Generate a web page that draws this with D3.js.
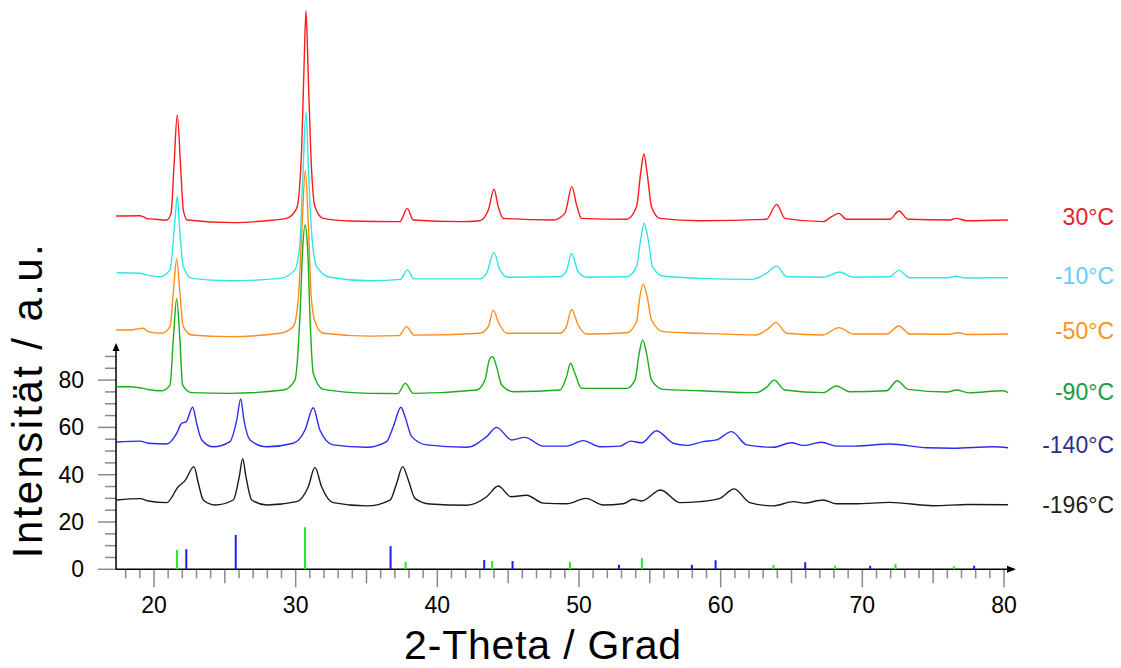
<!DOCTYPE html>
<html>
<head>
<meta charset="utf-8">
<script src="https://cdn.jsdelivr.net/npm/d3@7"></script>
<style>
  body { margin: 0; background: #fff; }
  text { font-family: "Liberation Sans", Arial, sans-serif; }
</style>
</head>
<body>
<script>
// XRD patterns at different temperatures, [2-theta, intensity]

var pattern30 = [[17.32,149.4],[19.0,149.5],[19.24,149.1],[19.5,148.3],[20.07,148.0],[20.9,147.7],[21.2,150.5],[21.41,170.2],[21.64,192.1],[21.88,170.2],[22.07,151.9],[22.35,147.7],[25.6,146.6],[27.95,147.4],[29.36,148.4],[30.07,152.6],[30.42,177.3],[30.59,212.5],[30.73,236.2],[30.87,212.5],[31.06,177.3],[31.36,153.3],[31.95,148.4],[33.83,147.3],[37.36,147.0],[37.88,152.6],[38.3,147.7],[41.6,147.0],[43.0,147.4],[43.6,151.9],[44.0,160.7],[44.3,153.3],[44.65,148.4],[48.18,147.7],[49.0,150.5],[49.5,161.8],[49.83,154.0],[50.18,148.4],[53.36,148.0],[54.06,153.3],[54.35,167.4],[54.58,175.6],[54.81,167.4],[55.12,153.3],[55.71,148.4],[58.53,147.4],[63.24,148.0],[63.95,154.3],[64.53,148.4],[67.23,147.0],[67.83,149.1],[68.34,150.5],[68.88,148.0],[71.94,148.0],[72.58,151.5],[73.23,148.0],[76.17,147.7],[76.65,148.4],[77.35,147.4],[80.29,147.7]];

var patternM10 = [[17.37,125.4],[19.01,125.2],[19.4,124.6],[20.42,123.7],[21.13,126.6],[21.48,147.7],[21.64,157.8],[21.83,142.2],[22.07,128.0],[22.66,123.0],[25.36,122.0],[28.89,123.0],[29.95,126.6],[30.3,137.8],[30.5,165.0],[30.73,193.5],[30.93,165.0],[31.13,142.1],[31.48,128.0],[32.42,123.5],[35.24,122.0],[37.4,122.6],[37.88,126.6],[38.35,122.8],[43.0,122.8],[43.48,125.2],[44.0,134.0],[44.42,126.6],[45.0,123.5],[48.65,123.7],[49.1,126.0],[49.47,133.6],[49.94,125.8],[50.53,123.5],[53.36,123.7],[54.06,128.0],[54.35,139.2],[54.6,146.3],[54.89,139.2],[55.19,128.0],[55.94,124.0],[58.53,123.0],[62.18,122.6],[63.24,125.2],[63.95,128.2],[64.66,123.7],[67.23,123.5],[68.41,125.7],[69.35,123.5],[71.94,123.7],[72.58,126.4],[73.35,123.3],[76.0,123.3],[76.65,123.9],[77.3,123.2],[80.29,123.3]];

var patternM50 = [[17.32,101.2],[18.3,101.2],[19.24,101.9],[19.6,100.5],[20.54,99.8],[21.13,102.6],[21.36,116.7],[21.6,131.2],[21.83,116.7],[22.07,102.6],[22.66,99.1],[25.36,98.4],[28.89,99.8],[29.83,102.6],[30.18,113.9],[30.45,145.0],[30.68,168.8],[30.9,145.0],[31.1,115.0],[31.4,104.0],[31.95,99.8],[35.24,98.6],[37.3,98.8],[37.83,102.6],[38.35,99.0],[43.0,99.8],[43.6,102.6],[43.95,109.6],[44.3,104.7],[44.89,99.8],[48.65,99.8],[49.1,102.5],[49.47,109.9],[49.94,103.3],[50.53,99.5],[53.36,100.0],[54.06,104.7],[54.3,115.3],[54.53,120.6],[54.81,115.3],[55.12,105.4],[55.94,100.5],[58.53,99.8],[62.5,99.1],[63.24,101.2],[63.9,104.3],[64.66,99.8],[67.23,99.1],[68.34,102.2],[69.35,99.5],[71.71,99.5],[72.58,102.9],[73.35,99.5],[76.1,99.4],[76.77,100.0],[77.4,99.3],[80.29,99.5]];

var patternM90 = [[17.32,77.2],[18.3,77.2],[19.24,76.5],[19.6,76.0],[20.54,75.5],[21.13,77.9],[21.36,97.0],[21.6,114.4],[21.83,97.0],[22.02,77.9],[22.66,74.7],[25.36,74.4],[29.13,75.8],[29.95,80.0],[30.3,106.8],[30.49,135.0],[30.66,145.6],[30.85,135.0],[31.01,106.8],[31.24,82.9],[31.95,76.1],[35.24,74.4],[37.2,74.3],[37.74,78.6],[38.3,74.4],[42.77,75.8],[43.36,80.0],[43.71,89.2],[43.9,89.9],[44.18,85.7],[44.54,77.9],[45.36,75.1],[48.65,75.8],[49.12,81.4],[49.4,87.1],[49.71,82.9],[50.18,76.5],[53.36,76.5],[53.95,80.0],[54.25,91.3],[54.49,97.0],[54.77,91.3],[55.12,80.0],[55.94,76.1],[58.53,75.5],[62.5,74.7],[63.24,77.0],[63.78,80.0],[64.53,75.8],[67.23,74.7],[68.17,77.5],[69.12,75.1],[71.71,75.5],[72.46,79.7],[73.23,76.1],[76.0,75.0],[76.65,75.8],[77.5,74.6],[79.94,75.5],[80.29,74.7]];

var patternM140 = [[17.37,53.8],[19.01,54.2],[19.6,53.3],[20.9,53.0],[21.6,57.5],[21.95,61.7],[22.26,62.3],[22.73,68.5],[23.01,61.7],[23.37,54.7],[24.19,51.8],[25.36,54.0],[25.84,63.1],[26.12,72.0],[26.35,63.1],[26.78,54.7],[27.95,51.8],[29.83,53.3],[30.66,58.9],[31.24,68.3],[31.71,58.9],[32.65,52.6],[35.01,51.6],[36.42,54.0],[36.89,60.3],[37.43,68.5],[37.72,64.5],[38.19,56.1],[39.25,52.6],[42.07,51.6],[43.48,56.1],[44.19,60.0],[45.24,54.7],[46.18,55.8],[47.47,52.1],[49.12,52.1],[50.3,54.4],[51.48,51.8],[52.89,52.1],[53.64,54.2],[54.42,53.5],[55.47,58.6],[56.65,53.3],[57.59,52.4],[58.77,54.0],[59.71,54.7],[60.77,58.2],[61.83,52.6],[63.71,51.6],[65.0,53.5],[65.82,52.4],[67.12,53.7],[68.17,52.1],[69.5,52.1],[71.94,53.0],[74.53,51.4],[76.41,51.2],[79.23,51.8],[80.29,51.4]];

var patternM196 = [[17.37,29.3],[19.01,29.9],[19.6,28.9],[20.9,28.2],[21.71,34.9],[22.19,37.5],[22.82,43.4],[23.13,36.4],[23.48,29.3],[24.3,27.2],[25.6,29.3],[26.02,39.2],[26.26,46.8],[26.49,39.2],[26.9,29.3],[27.95,27.2],[30.07,28.6],[30.89,34.9],[31.36,43.1],[31.83,34.9],[32.65,28.2],[35.01,26.8],[36.66,29.3],[37.13,36.4],[37.55,43.4],[37.95,37.8],[38.42,30.0],[39.48,27.6],[42.07,27.1],[43.48,30.7],[44.3,35.2],[45.2,30.7],[46.3,31.3],[47.47,28.0],[49.12,27.7],[50.49,30.0],[51.71,27.2],[53.1,27.7],[53.83,29.6],[54.42,28.9],[55.76,33.5],[57.12,28.2],[58.53,28.6],[59.94,30.0],[60.95,34.0],[62.06,28.2],[63.71,26.8],[65.12,28.6],[65.9,28.0],[67.23,29.3],[68.17,27.7],[69.5,27.7],[71.94,28.3],[75.0,26.9],[77.5,27.4],[80.29,27.3]];

// reference sticks
var refGreenPos = [21.62, 30.66, 37.76, 43.87, 49.36, 54.44, 63.73, 68.08, 72.34, 76.46];
var refGreenInt = [8.2, 17.8, 3.1, 3.5, 3.2, 4.8, 1.8, 1.5, 2.2, 1.3];
var refBluePos = [22.28, 25.77, 36.7, 43.31, 45.31, 52.82, 57.97, 59.64, 65.97, 70.55, 77.89];
var refBlueInt = [8.5, 14.5, 9.8, 3.9, 3.5, 1.9, 1.9, 3.8, 3.0, 1.5, 1.5];

var seriesNames = ['30°C', '-10°C', '-50°C', '-90°C', '-140°C', '-196°C'];
var seriesData = [pattern30, patternM10, patternM50, patternM90, patternM140, patternM196];
var lineColors = ['#ff1a1a', '#2ee6e6', '#ff8c1a', '#1aad1a', '#2a2af5', '#1a1a1a'];
var labelColors = ['#e8202a', '#6cc9f2', '#f7941d', '#169b48', '#2e2f8c', '#231f20'];
var labelY = [225, 284, 339, 400, 453, 513];

var xTicks = [20, 30, 40, 50, 60, 70, 80];
var yTicks = [0, 20, 40, 60, 80];

var width = 1121, height = 668;

var svg = d3.select('body').append('svg')
  .attr('width', width)
  .attr('height', height)

var x = d3.scaleLinear().domain([20, 80]).range([154, 1004]);
var y = d3.scaleLinear().domain([0, 80]).range([569.3, 380.1]);

var x0 = x(17.32), yAxisTop = y(94.8);

// x ticks (minor every 1, mid every 5, major every 10)
var tickColor = '#8a8a8a';
var xMinor = d3.range(18, 81).filter(function(v) { return v % 5 != 0 });
var xMid = d3.range(25, 80, 10);
function drawXTicks(vals, len) {
  svg.append('g').selectAll('line').data(vals).enter().append('line')
    .attr('x1', function(d) { return x(d) }).attr('x2', function(d) { return x(d) })
    .attr('y1', y(0)).attr('y2', y(0) + len)
    .attr('stroke', tickColor).attr('stroke-width', 1.5)
}
drawXTicks(xMinor, 9);
drawXTicks(xMid, 14);
drawXTicks(xTicks, 18);

// y ticks every 5
var yMinor = d3.range(5, 95, 5).filter(function(v) { return v % 20 != 0 });
function drawYTicks(vals, len) {
  svg.append('g').selectAll('line').data(vals).enter().append('line')
    .attr('x1', x0 - len).attr('x2', x0)
    .attr('y1', function(d) { return y(d) }).attr('y2', function(d) { return y(d) })
    .attr('stroke', tickColor).attr('stroke-width', 1.5)
}
drawYTicks(yMinor, 11);
drawYTicks(yTicks, 18);

// axis lines + arrows
svg.append('line').attr('x1', x0).attr('x2', x(80) + 10).attr('y1', y(0)).attr('y2', y(0))
  .attr('stroke', '#000').attr('stroke-width', 1.5)
svg.append('line').attr('x1', x0).attr('x2', x0).attr('y1', y(0)).attr('y2', yAxisTop)
  .attr('stroke', '#000').attr('stroke-width', 1.5)
svg.append('path')
  .attr('d', 'M' + (x(80) + 12) + ',' + y(0) + 'l-9,-3.5l0,7z').attr('fill', '#000')
svg.append('path')
  .attr('d', 'M' + x0 + ',' + (yAxisTop - 2) + 'l-3.5,8l7,0z').attr('fill', '#000')

// tick labels
svg.append('g').selectAll('text').data(xTicks).enter().append('text')
  .attr('x', function(d) { return x(d) }).attr('y', 613)
  .attr('text-anchor', 'middle').attr('font-size', 23)
  .text(function(d) { return d })
svg.append('g').selectAll('text').data(yTicks).enter().append('text')
  .attr('x', 84).attr('y', function(d) { return y(d) + 8 })
  .attr('text-anchor', 'end').attr('font-size', 23)
  .text(function(d) { return d })

// axis titles
svg.append('text').attr('x', 543).attr('y', 659)
  .attr('text-anchor', 'middle').attr('font-size', 41)
  .attr('letter-spacing', 0.8)
  .text('2-Theta / Grad')
svg.append('text').attr('transform', 'translate(42,400) rotate(-90)')
  .attr('text-anchor', 'middle').attr('font-size', 42)
  .attr('letter-spacing', 2.4)
  .text('Intensität / a.u.')

// reference sticks
function drawSticks(pos, ints, color) {
  svg.append('g').selectAll('line').data(pos).enter().append('line')
    .attr('x1', function(d) { return x(d) }).attr('x2', function(d) { return x(d) })
    .attr('y1', y(0)).attr('y2', function(d, i) { return y(ints[i]) })
    .attr('stroke', color).attr('stroke-width', 2)
}
drawSticks(refGreenPos, refGreenInt, '#22ee22');
drawSticks(refBluePos, refBlueInt, '#1a1aff');

// patterns
var line = d3.line()
  .x(function(d) { return x(d[0]) })
  .y(function(d) { return y(d[1]) })
  .curve(d3.curveMonotoneX)

svg.append('g').selectAll('path').data(seriesData).enter().append('path')
  .attr('d', line)
  .attr('fill', 'none')
  .attr('stroke', function(d, i) { return lineColors[i] })
  .attr('stroke-width', 1.4)

// temperature labels
svg.append('g').selectAll('text').data(seriesNames).enter().append('text')
  .attr('x', 1114).attr('y', function(d, i) { return labelY[i] })
  .attr('text-anchor', 'end').attr('font-size', 23)
  .attr('fill', function(d, i) { return labelColors[i] })
  .text(function(d) { return d })
</script>
</body>
</html>
